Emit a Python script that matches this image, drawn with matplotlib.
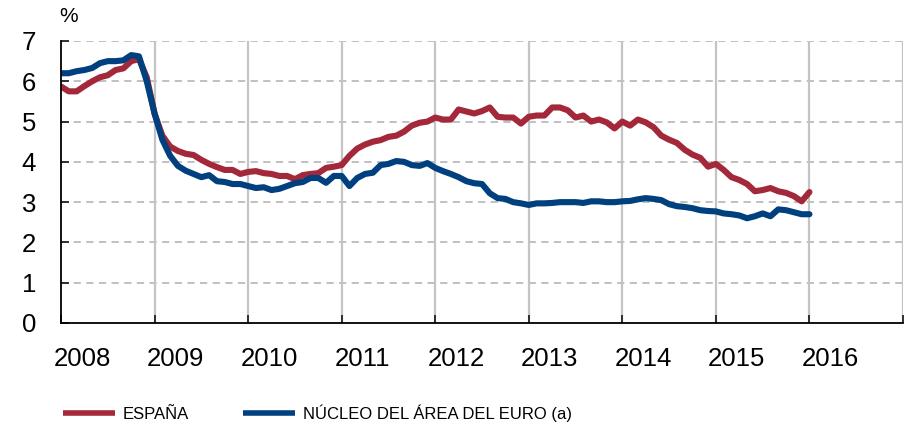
import matplotlib
matplotlib.use("Agg")
import matplotlib.pyplot as plt
import matplotlib.transforms as mtransforms

# ---- data (monthly, Jan 2008 - Jan 2016) ----
start_year = 2008
spain = [5.87, 5.75, 5.75, 5.88, 6.00, 6.10, 6.15, 6.28, 6.32, 6.50, 6.55, 6.10,
         5.20, 4.65, 4.38, 4.27, 4.20, 4.17, 4.05, 3.95, 3.87, 3.80, 3.80, 3.70,
         3.75, 3.77, 3.72, 3.70, 3.65, 3.65, 3.57, 3.67, 3.70, 3.72, 3.85, 3.88,
         3.92, 4.15, 4.33, 4.43, 4.50, 4.54, 4.62, 4.65, 4.75, 4.90, 4.97, 5.00,
         5.10, 5.05, 5.05, 5.30, 5.25, 5.20, 5.26, 5.35, 5.12, 5.10, 5.10, 4.95,
         5.12, 5.15, 5.15, 5.35, 5.35, 5.28, 5.10, 5.15, 5.00, 5.05, 4.98, 4.83,
         5.00, 4.90, 5.05, 4.98, 4.86, 4.65, 4.55, 4.47, 4.30, 4.18, 4.10, 3.88,
         3.95, 3.80, 3.62, 3.55, 3.45, 3.27, 3.30, 3.35, 3.27, 3.23, 3.15, 3.02,
         3.25]
euro_core = [6.20, 6.20, 6.25, 6.28, 6.33, 6.45, 6.50, 6.50, 6.52, 6.65, 6.62, 6.00,
             5.20, 4.55, 4.15, 3.90, 3.78, 3.70, 3.62, 3.67, 3.52, 3.50, 3.45, 3.45,
             3.40, 3.35, 3.37, 3.30, 3.33, 3.40, 3.47, 3.50, 3.60, 3.60, 3.48, 3.65,
             3.65, 3.40, 3.60, 3.70, 3.73, 3.92, 3.95, 4.02, 4.00, 3.92, 3.90, 3.97,
             3.85, 3.77, 3.70, 3.62, 3.52, 3.47, 3.45, 3.22, 3.10, 3.08, 3.00, 2.97,
             2.93, 2.97, 2.97, 2.98, 3.00, 3.00, 3.00, 2.98, 3.02, 3.02, 3.00, 3.00,
             3.02, 3.03, 3.07, 3.10, 3.08, 3.05, 2.95, 2.90, 2.88, 2.85, 2.80, 2.78,
             2.77, 2.72, 2.70, 2.67, 2.60, 2.65, 2.72, 2.65, 2.82, 2.80, 2.75, 2.70,
             2.70]
year_labels = ["2008", "2009", "2010", "2011", "2012", "2013", "2014", "2015", "2016"]
y_ticks = [0, 1, 2, 3, 4, 5, 6, 7]
series_names = ["ESPAÑA", "NÚCLEO DEL ÁREA DEL EURO (a)"]

RED = "#A3283A"
BLUE = "#00407F"

plt.rcParams["font.family"] = ["Liberation Sans", "DejaVu Sans"]

fig = plt.figure(figsize=(9.08, 4.25), dpi=100)
ax = fig.add_axes([61 / 908, 1 - 323 / 425, (903 - 61) / 908, (323 - 41) / 425])

t_sp = [start_year + i / 12 for i in range(len(spain))]
t_eu = [start_year + i / 12 for i in range(len(euro_core))]
l1, = ax.plot(t_sp, spain, color=RED, lw=4.4, solid_capstyle="round", solid_joinstyle="round", zorder=3)
l2, = ax.plot(t_eu, euro_core, color=BLUE, lw=4.4, solid_capstyle="round", solid_joinstyle="round", zorder=4)

ax.set_xlim(start_year, start_year + len(year_labels))
ax.set_ylim(0, 7)

years = [start_year + k for k in range(len(year_labels) + 1)]
ax.set_xticks(years)
ax.set_xticklabels(year_labels + [""])
ax.set_yticks(y_ticks)
ax.set_yticklabels([str(v) for v in y_ticks])

for y in y_ticks[1:]:
    ax.axhline(y, color="#BBBBBB", lw=1.3, ls=(0, (4, 3)), zorder=1)
for x in years[1:]:
    ax.axvline(x, color="#C4C4C4", lw=1.6, zorder=1)

for s in ["top", "right"]:
    ax.spines[s].set_visible(False)
for s in ["left", "bottom"]:
    ax.spines[s].set_color("black")
    ax.spines[s].set_linewidth(1.3)
    ax.spines[s].set_zorder(5)

ax.tick_params(axis="both", direction="in", length=6, width=1.3, color="#222222", labelsize=18.5)
ax.tick_params(axis="x", pad=17)
ax.tick_params(axis="y", pad=18)

offset = mtransforms.ScaledTranslation(21 / 100, 0, fig.dpi_scale_trans)
for lab in ax.get_xticklabels():
    lab.set_transform(lab.get_transform() + offset)

fig.text(59 / 908, 1 - 17 / 425, "%", fontsize=15, ha="left", va="center")

fig.legend([l1, l2], series_names, loc="center left",
           bbox_to_anchor=(63 / 908, 1 - 413 / 425), ncol=2, frameon=False,
           prop={"size": 12},
           handlelength=3.1, handletextpad=0.45, columnspacing=3.3, borderpad=0, borderaxespad=0)
for h in fig.legends[0].legend_handles:
    h.set_linewidth(4)
    h.set_solid_capstyle("butt")

fig.savefig("out.png", dpi=100)
